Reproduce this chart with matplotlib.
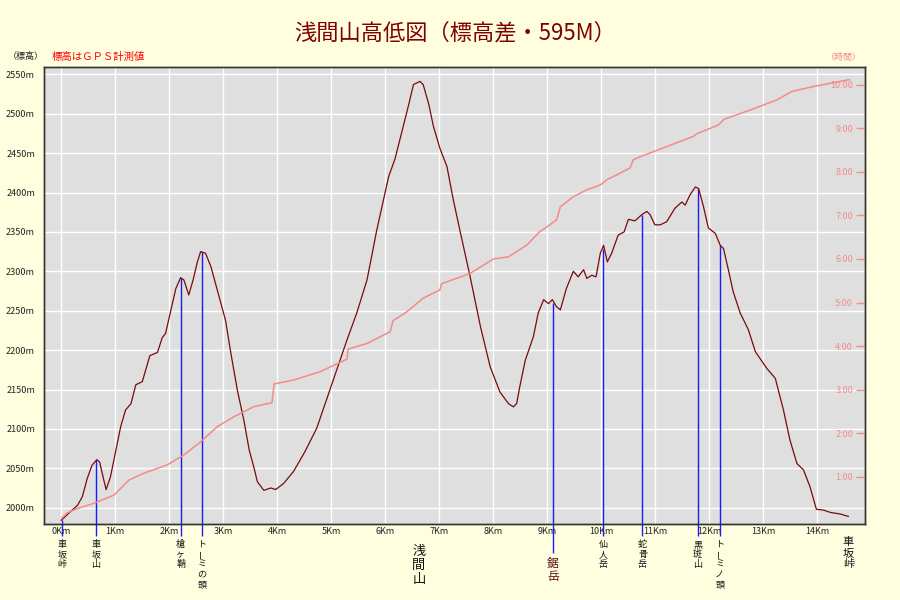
import matplotlib
matplotlib.use("Agg")
import matplotlib.pyplot as plt
import matplotlib.transforms as mtransforms

plt.rcParams['font.family'] = ['Noto Sans CJK JP', 'DejaVu Sans']

# ── data ──────────────────────────────────────────────────────────────────────
# elevation profile: distance (km) / elevation (m)
dist_km = [0.00, 0.17, 0.30, 0.39, 0.48, 0.57, 0.66, 0.71, 0.78, 0.83, 0.91,
           1.01, 1.10, 1.19, 1.29, 1.38, 1.50, 1.64, 1.78, 1.87, 1.93, 2.03,
           2.12, 2.21, 2.27, 2.36, 2.44, 2.52, 2.58, 2.67, 2.77, 2.92, 3.04,
           3.14, 3.26, 3.38, 3.48, 3.57, 3.63, 3.75, 3.88, 3.97, 4.12, 4.30,
           4.51, 4.73, 4.91, 5.10, 5.29, 5.47, 5.66, 5.84, 6.06, 6.18, 6.33,
           6.43, 6.52, 6.64, 6.70, 6.80, 6.89, 7.01, 7.14, 7.26, 7.38, 7.57,
           7.76, 7.94, 8.12, 8.28, 8.37, 8.43, 8.49, 8.59, 8.74, 8.83, 8.93,
           9.02, 9.09, 9.17, 9.24, 9.35, 9.48, 9.57, 9.67, 9.73, 9.82, 9.90,
           9.98, 10.04, 10.11, 10.19, 10.31, 10.42, 10.50, 10.62, 10.75, 10.84,
           10.90, 10.99, 11.09, 11.21, 11.36, 11.49, 11.55, 11.64, 11.74, 11.80,
           11.89, 11.98, 12.11, 12.20, 12.26, 12.35, 12.44, 12.57, 12.72, 12.85,
           13.06, 13.22, 13.37, 13.49, 13.62, 13.74, 13.86, 13.98, 14.11, 14.24,
           14.42, 14.57]
elev_m = [1984, 1995, 2003, 2014, 2037, 2054, 2061, 2058, 2037, 2023, 2039,
          2073, 2103, 2124, 2132, 2156, 2160, 2193, 2197, 2216, 2221, 2251,
          2278, 2292, 2289, 2270, 2289, 2312, 2325, 2323, 2306, 2268, 2238,
          2196, 2149, 2111, 2073, 2050, 2033, 2022, 2025, 2023, 2031, 2046,
          2071, 2101, 2137, 2175, 2213, 2247, 2289, 2352, 2420, 2443, 2484,
          2511, 2537, 2541, 2537, 2513, 2484, 2456, 2433, 2390, 2352, 2293,
          2230, 2179, 2147, 2132, 2128, 2132, 2154, 2187, 2217, 2247, 2264,
          2259, 2264, 2255, 2251, 2278, 2300, 2293, 2302, 2291, 2295, 2293,
          2323, 2333, 2312, 2323, 2346, 2350, 2366, 2364, 2372, 2376,
          2372, 2359, 2359, 2363, 2380, 2388, 2384, 2397, 2407, 2405,
          2382, 2355, 2348, 2333, 2329, 2302, 2274, 2247, 2226, 2198,
          2177, 2164, 2124, 2086, 2056, 2048, 2027, 1998, 1997, 1994,
          1992, 1989]

# elapsed time: distance (km) / hours
time_km = [0.01, 0.11, 0.30, 0.61, 0.98, 1.25, 1.53, 1.96, 2.27, 2.58, 2.89,
           3.20, 3.57, 3.90, 3.94, 4.30, 4.79, 5.29, 5.31, 5.66, 6.09, 6.14,
           6.40, 6.70, 7.01, 7.04, 7.57, 8.00, 8.28, 8.62, 8.86, 8.96, 9.17,
           9.24, 9.48, 9.73, 9.98, 10.10, 10.28, 10.53, 10.59, 10.72, 11.69,
           11.79, 12.17, 12.27, 12.75, 13.24, 13.53, 13.92, 14.59]
time_h = [0.05, 0.17, 0.27, 0.39, 0.58, 0.92, 1.08, 1.27, 1.50, 1.80, 2.15,
          2.38, 2.61, 2.70, 3.13, 3.22, 3.41, 3.70, 3.93, 4.06, 4.33, 4.58,
          4.79, 5.10, 5.29, 5.43, 5.67, 6.00, 6.05, 6.32, 6.63, 6.71, 6.90,
          7.20, 7.43, 7.59, 7.70, 7.82, 7.93, 8.09, 8.28, 8.35, 8.81,
          8.89, 9.08, 9.21, 9.42, 9.65, 9.85, 9.96, 10.12]

# named points with a marker line
peak_names = ["車坂峠", "車坂山", "槍ヶ鞘", "トーミの頭", "鋸岳",
              "仙人岳", "蛇骨岳", "黒斑山", "トーミノ頭"]
peak_km = [0.01, 0.64, 2.21, 2.60, 9.10, 10.03, 10.76, 11.78, 12.19]
peak_elev = [1984, 2061, 2292, 2325, 2260, 2328, 2372, 2405, 2333]

# names without a marker line
other_names = ["浅間山", "車坂峠"]
other_km = [6.62, 14.57]

elev_ticks = list(range(2000, 2551, 50))
km_ticks = list(range(0, 15))
hour_ticks = list(range(1, 11))

PINK = "#f48a8a"
BG = "#ffffe0"

fig = plt.figure(figsize=(9, 6), dpi=100, facecolor=BG)
ax = fig.add_axes([44 / 900, 1 - 524 / 600, 821 / 900, 457 / 600])
ax.set_facecolor("#dfdfdf")

ax.set_xlim(-0.32, 14.88)
ax.set_ylim(1979.3, 2559.3)
ax.set_xticks(km_ticks)
ax.set_xticklabels([f"{k}Km" for k in km_ticks])
ax.set_yticks(elev_ticks)
ax.set_yticklabels([f"{e}m" for e in elev_ticks])
ax.tick_params(axis="both", length=0, labelsize=6.5, colors="#222222")
ax.tick_params(axis="y", pad=6.5)
ax.tick_params(axis="x", pad=2)
ax.grid(True, color="white", linewidth=1)
ax.set_axisbelow(True)
for s in ax.spines.values():
    s.set_color("#333333")
    s.set_linewidth(1)

# elevation profile
ax.plot(dist_km, elev_m, color="#7a0a0a", linewidth=0.9, zorder=4)

# marker lines, starting a little below the axis
px_per_m = 457 / (2559.3 - 1979.3)
for name, km, el in zip(peak_names, peak_km, peak_elev):
    stem = 29 if name == "鋸岳" else 12
    ax.vlines(km, 1979.3 - stem / px_per_m, el, color="#1a1aff",
              linewidth=1, clip_on=False, zorder=3)

trans = mtransforms.blended_transform_factory(ax.transData, ax.transAxes)


def vertical_label(km, text, size, color, top_pt, step_pt):
    # stack characters top to bottom like vertical writing
    for i, ch in enumerate(text):
        ax.annotate(ch, xy=(km, 0), xycoords=trans,
                    xytext=(0, -top_pt - i * step_pt), textcoords="offset points",
                    ha="center", va="top", fontsize=size, color=color,
                    rotation=90 if ch == "ー" else 0, annotation_clip=False)


for name, km in zip(peak_names, peak_km):
    if name == "鋸岳":
        vertical_label(km, name, 8.5, "#5a1414", 23.5, 9.4)
    else:
        vertical_label(km, name, 6.5, "#111111", 11.5, 7.2)

vertical_label(other_km[0], other_names[0], 9.5, "#111111", 15, 10)
vertical_label(other_km[1], other_names[1], 8, "#111111", 9.4, 7.8)

# elapsed time on the right axis
ax2 = ax.twinx()
ax2.set_ylim(-0.087, 10.41)
ax2.plot(time_km, time_h, color=PINK, linewidth=1.1, zorder=2)
ax2.set_yticks(hour_ticks)
ax2.set_yticklabels([f"{h}:00" for h in hour_ticks])
ax2.tick_params(axis="y", direction="in", length=6.5, width=1, colors=PINK,
                labelsize=6.5, pad=-8.6)
for t in ax2.get_yticklabels():
    t.set_horizontalalignment("right")
for s in ax2.spines.values():
    s.set_color("#333333")
    s.set_linewidth(1)

# header texts
fig.text(455 / 900, 1 - 33 / 600, "浅間山高低図（標高差・595M）",
         ha="center", va="center", fontsize=16, color="#800000")
fig.text(8 / 900, 1 - 57 / 600, "（標高）", ha="left", va="center",
         fontsize=6.5, color="#222222")
fig.text(52 / 900, 1 - 57 / 600, "標高はＧＰＳ計測値", ha="left", va="center",
         fontsize=7.5, color="#ff0000")
fig.text(862 / 900, 1 - 57 / 600, "（時間）", ha="right", va="center",
         fontsize=6.5, color=PINK)

fig.savefig("out.png", dpi=100, facecolor=BG)
